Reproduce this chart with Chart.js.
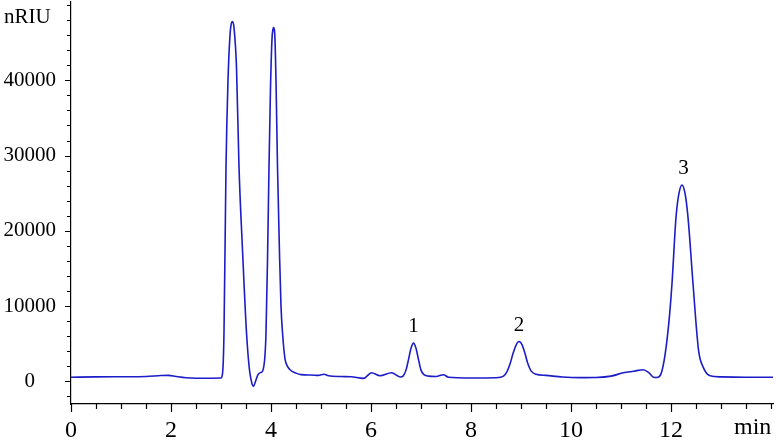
<!DOCTYPE html>
<html>
<head>
<meta charset="utf-8">
<script src="https://cdn.jsdelivr.net/npm/chart.js@4.4.1/dist/chart.umd.min.js"></script>
<style>
    html, body { margin: 0; padding: 0; background: white; }
    #wrap { width: 776px; height: 441px; position: relative; }
</style>
</head>
<body>
<div id="wrap"><canvas id="chromatogram"></canvas></div>
<script>
// retention time (min) and detector signal (nRIU)
const timeMin = [
    0.0, 0.5, 1.0, 1.5, 1.8, 1.95, 2.1, 2.3, 2.5, 2.8, 3.0,
    3.03, 3.06, 3.10, 3.14, 3.18, 3.20, 3.23, 3.26, 3.31, 3.36, 3.43, 3.51, 3.57, 3.62, 3.65, 3.69, 3.74, 3.80, 3.84,
    3.88, 3.90, 3.93, 3.96, 3.99, 4.02, 4.04, 4.055, 4.075, 4.10, 4.13, 4.17, 4.20, 4.23, 4.28, 4.33, 4.38,
    4.5, 4.6, 4.8, 4.95, 5.06, 5.15, 5.4, 5.6, 5.85, 6.01, 6.18, 6.41, 6.59,
    6.64, 6.70, 6.75, 6.80, 6.85, 6.90, 6.95, 7.00, 7.06, 7.15, 7.3, 7.45, 7.55, 8.0, 8.5,
    8.65, 8.72, 8.78, 8.84, 8.90, 8.96, 9.02, 9.08, 9.14, 9.2, 9.3, 9.5, 9.83,
    10.2, 10.5, 10.8, 11.05, 11.25, 11.44, 11.55, 11.65, 11.72,
    11.8, 11.88, 11.96, 12.02, 12.1, 12.16, 12.22, 12.28, 12.34, 12.44, 12.55, 12.65, 12.78,
    13.0, 13.5, 14.05
]
const signal = [
    550, 600, 620, 650, 780, 800, 650, 480, 420, 430, 450,
    1000, 6500, 28500, 40000, 46000, 47300, 47800, 47000, 41700, 28500, 17500, 6500, 1500, -300, -660, 0, 900, 1200, 1500,
    3500, 6500, 16000, 28500, 39000, 45500, 46800, 47000, 46200, 40000, 28500, 17000, 10000, 6500, 3000, 2000, 1550,
    1100, 900, 850, 800, 950, 750, 650, 620, 400, 1150, 750, 1150, 580,
    700, 1500, 2900, 4400, 5090, 4400, 2900, 1500, 900, 700, 650, 890, 550, 450, 480,
    700, 1300, 2300, 3700, 4800, 5300, 4900, 3700, 2300, 1400, 950, 800, 580,
    500, 520, 700, 1150, 1350, 1550, 1200, 560, 530,
    1000, 3500, 8000, 13000, 21800, 25000, 26100, 25000, 21800, 13000, 4200, 1800, 750,
    600, 550, 550
]

// numbered peaks
const peakNames = ['1', '2', '3']
const peakTimes = [6.85, 8.96, 12.25]
const peakHeights = [5090, 5300, 26100]

const xLabelTimes = [0, 2, 4, 6, 8, 10, 12]
const yLabelValues = [0, 10000, 20000, 30000, 40000]

const serif = '"Liberation Serif", "Times New Roman", serif'

// tick marks drawn outward, long on labelled values
const tickMarks = {
    id: 'tickMarks',
    afterDraw(chart) {
        let ctx = chart.ctx
        let x = chart.scales.x
        let y = chart.scales.y
        let area = chart.chartArea
        ctx.save()
        ctx.strokeStyle = '#000'
        ctx.lineWidth = 1.2
        ctx.beginPath()
        x.ticks.forEach(t => {
            let px = Math.round(x.getPixelForValue(t.value)) + 0.5
            let len = xLabelTimes.includes(t.value) ? 8 : 5
            ctx.moveTo(px, area.bottom)
            ctx.lineTo(px, area.bottom + len)
        })
        y.ticks.forEach(t => {
            let py = Math.round(y.getPixelForValue(t.value)) + 0.5
            let len = yLabelValues.includes(t.value) ? 6 : 4
            ctx.moveTo(area.left, py)
            ctx.lineTo(area.left - len, py)
        })
        ctx.stroke()

        ctx.fillStyle = '#000'
        ctx.font = '21px ' + serif
        ctx.textAlign = 'left'
        ctx.textBaseline = 'middle'
        ctx.fillText('nRIU', 4, 17)
        ctx.font = '24px ' + serif
        ctx.fillText('min', 734, 428)

        ctx.font = '21px ' + serif
        ctx.textAlign = 'center'
        ctx.textBaseline = 'bottom'
        peakNames.forEach((name, i) => {
            let px = x.getPixelForValue(peakTimes[i])
            let py = y.getPixelForValue(peakHeights[i])
            ctx.fillText(name, px, py - 6)
        })
        ctx.restore()
    }
}

new Chart('chromatogram', {
    type: 'scatter',
    data: {
        datasets: [{
            data: timeMin.map((t, i) => ({ x: t, y: signal[i] })),
            showLine: true,
            borderColor: '#1c1cc8',
            borderWidth: 1.6,
            pointRadius: 0,
            cubicInterpolationMode: 'monotone'
        }]
    },
    options: {
        responsive: true,
        maintainAspectRatio: false,
        animation: false,
        layout: { padding: { top: 2, right: 3, left: 0, bottom: 0 } },
        plugins: {
            legend: { display: false },
            tooltip: { enabled: false }
        },
        scales: {
            x: {
                type: 'linear',
                min: 0,
                max: 14.04,
                border: { display: true, color: '#000', width: 1.2 },
                grid: { display: false, drawTicks: false },
                afterFit: s => {
                    s.height = 37
                    s.paddingLeft = 0
                    s.paddingRight = 0
                },
                afterBuildTicks: s => {
                    s.ticks = []
                    for (let i = 0; i <= 28; i++) s.ticks.push({ value: i / 2 })
                },
                ticks: {
                    autoSkip: false,
                    maxRotation: 0,
                    padding: 12,
                    color: '#000',
                    font: { family: serif, size: 24 },
                    callback: v => xLabelTimes.includes(v) ? String(v) : ''
                }
            },
            y: {
                min: -3000,
                max: 50400,
                border: { display: true, color: '#000', width: 1.2 },
                grid: { display: false, drawTicks: false },
                afterFit: s => {
                    s.width = 71
                    s.paddingTop = 0
                    s.paddingBottom = 0
                },
                afterBuildTicks: s => {
                    s.ticks = []
                    for (let v = -2000; v <= 50000; v += 2000) s.ticks.push({ value: v })
                },
                ticks: {
                    autoSkip: false,
                    padding: 15,
                    crossAlign: 'center',
                    color: '#000',
                    font: { family: serif, size: 21 },
                    callback: v => yLabelValues.includes(v) ? String(v) : ''
                }
            }
        }
    },
    plugins: [tickMarks]
})
</script>
</body>
</html>
